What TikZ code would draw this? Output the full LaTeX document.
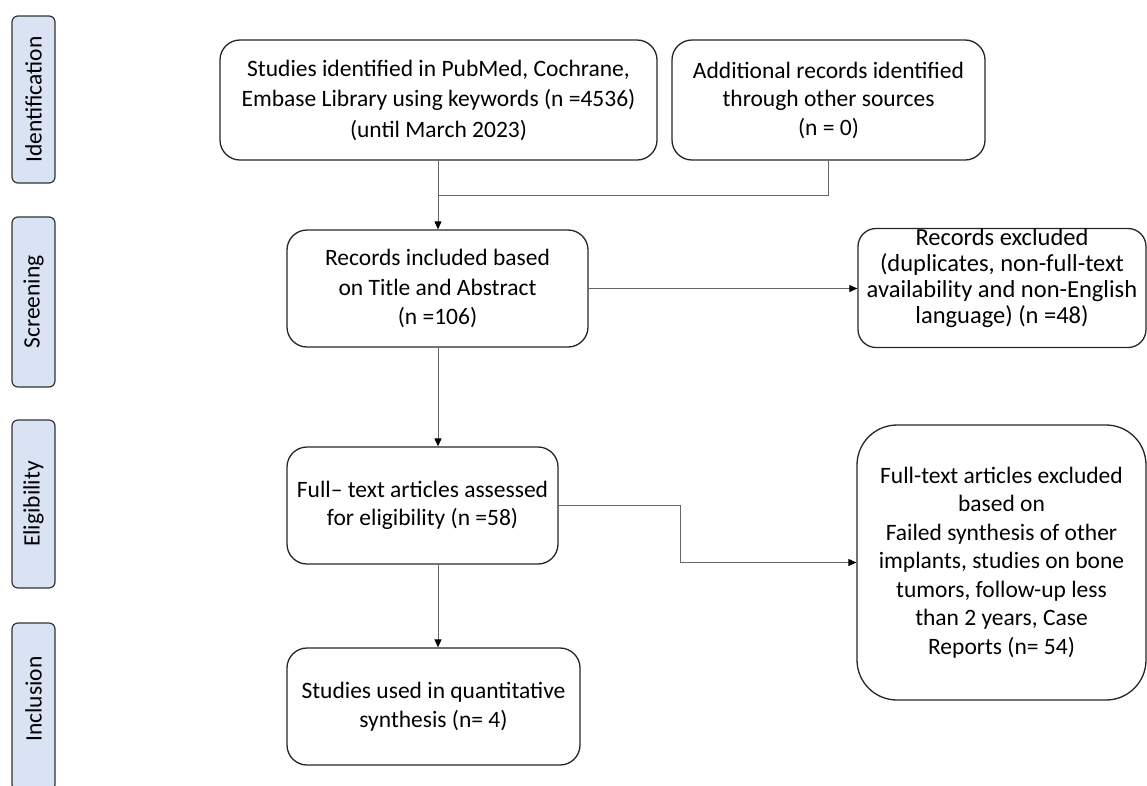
\documentclass[tikz,border=0pt]{standalone}
\usepackage{fontspec}
\setmainfont{Carlito}
\usetikzlibrary{arrows.meta}
\definecolor{sidefill}{RGB}{218,227,243}
\begin{document}
\begin{tikzpicture}[x=1pt,y=-1pt,
  box/.style={draw=black!85, line width=1.3pt, rounded corners=20pt, align=center, inner sep=0pt, font=\fontsize{23.5}{28.5}\selectfont},
  side/.style={draw=black!80, fill=sidefill, line width=1.2pt, rounded corners=6pt, rotate=90, inner sep=0pt, minimum height=43pt, font=\fontsize{23.5}{28}\selectfont},
  conn/.style={draw=black!60, line width=0.9pt},
  arr/.style={conn, -{Triangle[length=8pt,width=7pt,fill=black,color=black]}}]
\useasboundingbox (0,0) rectangle (1147,785);
% side labels
\node[side, minimum width=167pt] (sid) at (33.5,99.5) {Identification};
\node[side, minimum width=170pt] (ssc) at (33.5,302) {Screening};
\node[side, minimum width=168pt] (sel) at (33.5,504) {Eligibility};
\node[side, minimum width=168pt] (sin) at (33.5,707) {\hspace*{16pt}Inclusion};
% boxes
\node[box, minimum width=437pt, minimum height=120pt, font=\fontsize{23.5}{30.5}\selectfont] (b1) at (438.5,100)
  {Studies identified in PubMed, Cochrane,\\Embase Library using keywords (n =4536)\\(until March 2023)};
\node[box, minimum width=313pt, minimum height=120pt] (b2) at (828.5,100)
  {Additional records identified\\through other sources\\(n = 0)};
\node[box, minimum width=301pt, minimum height=117pt, font=\fontsize{23.5}{29.5}\selectfont] (b3) at (437.5,288.5)
  {Records included based\\on Title and Abstract\\(n =106)};
\node[box, minimum width=288pt, minimum height=118pt, rounded corners=18pt, font=\fontsize{24.5}{26}\selectfont] (b4) at (1002,288)
  {\raisebox{0pt}[0pt][0pt]{}Records excluded\\(duplicates, non-full-text\\availability and non-English\\language) (n =48)\\[-2pt]\rule{0pt}{0pt}};
\node[box, minimum width=271pt, minimum height=117pt] (b5) at (422.5,505.5)
  {Full– text articles assessed\\for eligibility (n =58)};
\node[box, minimum width=289pt, minimum height=275pt, rounded corners=40pt] (b6) at (1001.5,562.5)
  {Full-text articles excluded\\based on\\Failed synthesis of other\\implants, studies on bone\\tumors, follow-up less\\than 2 years, Case\\Reports (n= 54)};
\node[box, minimum width=293pt, minimum height=117pt] (b7) at (433.5,706.5)
  {Studies used in quantitative\\synthesis (n= 4)};
% connectors
\coordinate (m) at (438,195);
\draw[conn] (b1.south -| m) -- (m);
\draw[conn] (b2.south) -- (b2.south |- m) -- (m);
\draw[arr] (m) -- (m |- b3.north);
\draw[arr] (b3.east) -- (b3.east -| b4.west);
\draw[arr] (b3.south -| m) -- (m |- b5.north);
\draw[arr] (b5.east) -- ++(122,0) |- (b6.west);
\draw[arr] (b5.south -| m) -- (m |- b7.north);
\end{tikzpicture}
\end{document}
